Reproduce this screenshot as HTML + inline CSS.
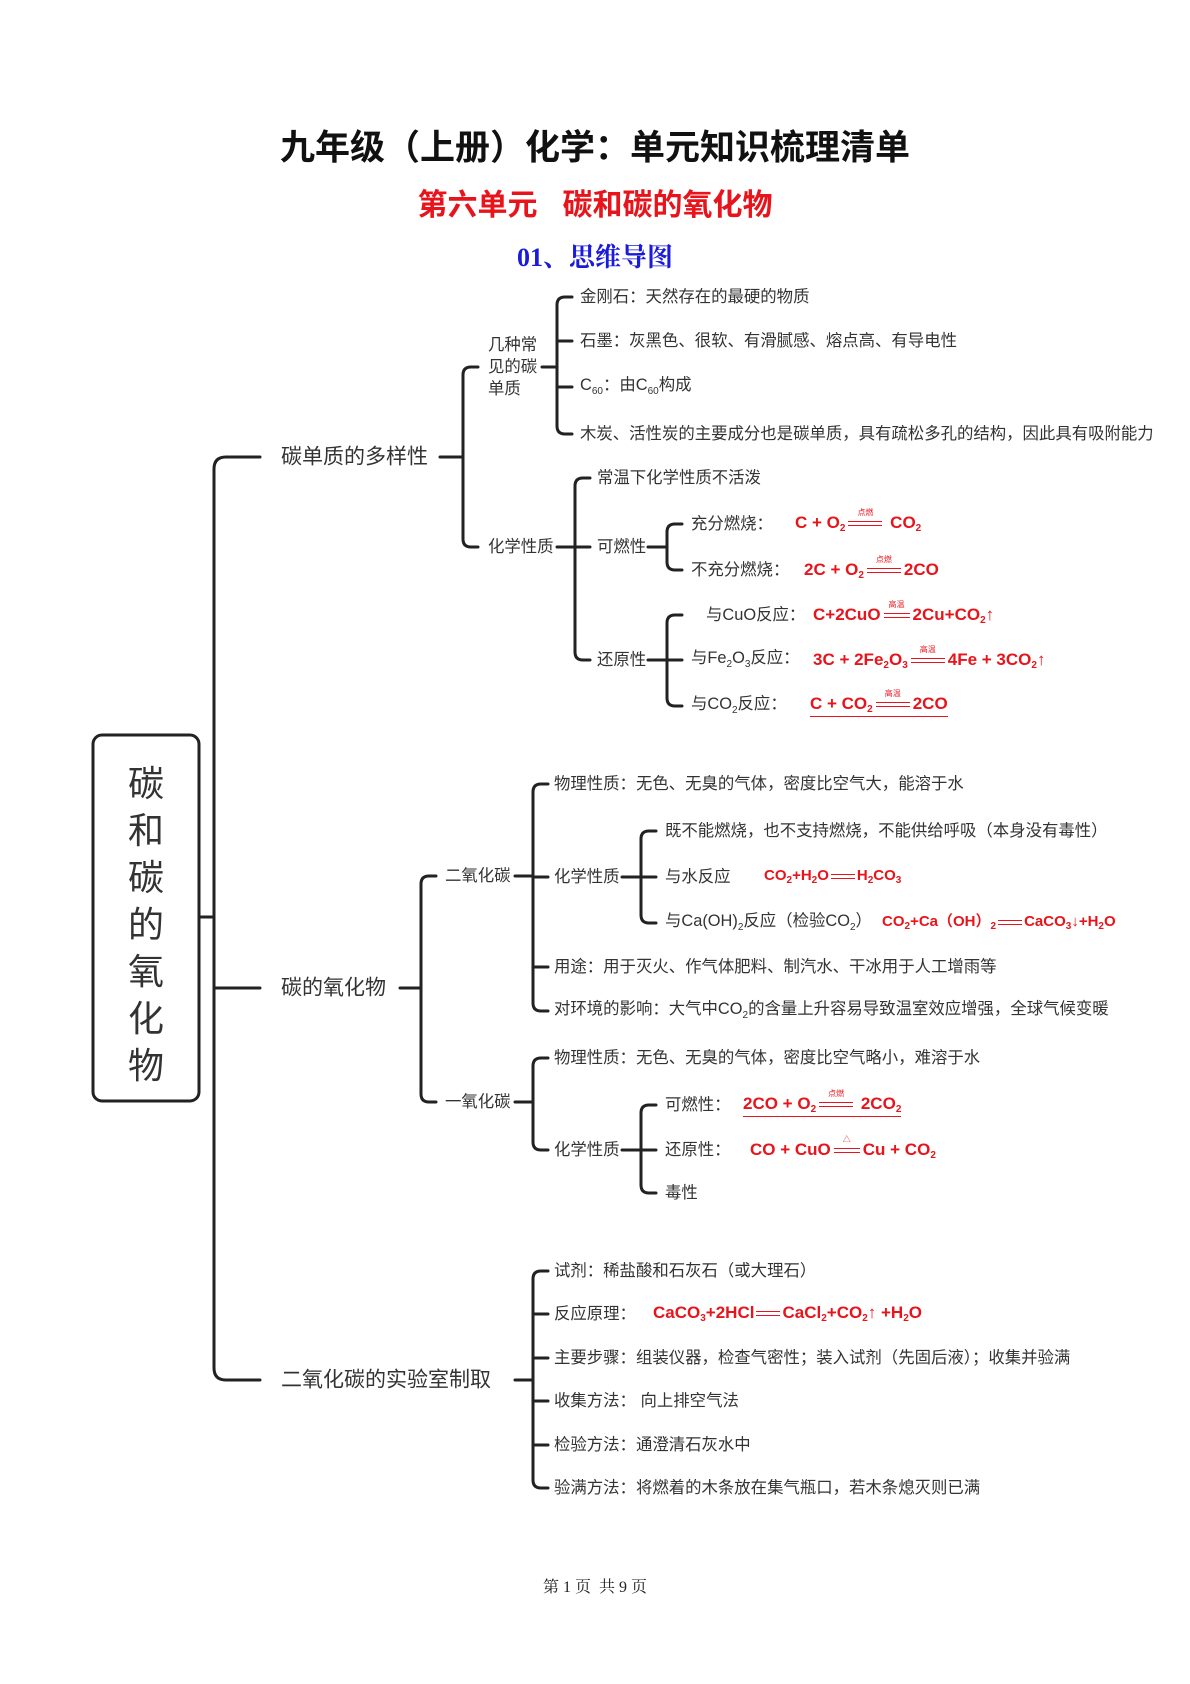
<!DOCTYPE html>
<html><head><meta charset="utf-8">
<style>
body{margin:0;background:#fff;}
#p{position:relative;width:1190px;height:1684px;overflow:hidden;font-family:"Liberation Sans","Noto Sans CJK SC",sans-serif;color:#333;}
.t{position:absolute;white-space:nowrap;line-height:1;transform:translateY(-50%);}
.s{font-size:16.4px;}
.l1{font-size:21px;color:#333;}
.eq{color:#e8141b;font-weight:bold;font-size:17px;}
.eq sub{font-size:10px;vertical-align:-3px;}
.cond{display:inline-block;position:relative;width:34px;margin:0 3px;vertical-align:middle;border-top:1.5px solid #e8141b;border-bottom:1.5px solid #e8141b;height:3px;}
.cond i{position:absolute;font-style:normal;font-size:8px;font-weight:normal;top:-13px;left:0;width:100%;text-align:center;}
.eqs{display:inline-block;width:24px;height:3px;border-top:1.5px solid #e8141b;border-bottom:1.5px solid #e8141b;vertical-align:middle;margin:0 2px;}
sub{font-size:10px;}
</style></head><body><div id="p">
<div class="t" style="left:0;width:1190px;text-align:center;top:148px;font-size:35px;font-weight:bold;color:#111;">九年级（上册）化学：单元知识梳理清单</div>
<div class="t" style="left:0;width:1190px;text-align:center;top:206px;font-size:30px;font-weight:bold;color:#e8141b;">第六单元&nbsp;&nbsp;&nbsp;碳和碳的氧化物</div>
<div class="t" style="left:0;width:1190px;text-align:center;top:258px;font-size:26px;font-weight:bold;color:#1a1adb;font-family:'Liberation Serif','Noto Serif CJK SC',serif;">01、思维导图</div>

<svg width="1190" height="1684" style="position:absolute;left:0;top:0" fill="none" stroke="#222" stroke-width="3" stroke-linecap="round">
<rect x="93" y="735" width="106" height="366" rx="9" stroke-width="3"/>
<path d="M199 917 H214 M260 457 H226 Q214 457 214 469 V1368 Q214 1380 226 1380 H260 M214 988 H260"/>
<path d="M440 457 H463 M478 367 H471 Q463 367 463 375 V539 Q463 547 471 547 H478"/>
<path d="M542 367 H557 M572 297 H565 Q557 297 557 305 V426 Q557 434 565 434 H572 M557 341 H572 M557 387 H572"/>
<path d="M557 547 H575 M590 478 H583 Q575 478 575 486 V652 Q575 660 583 660 H590 M575 547 H590"/>
<path d="M648 547 H667 M682 524 H675 Q667 524 667 532 V562 Q667 570 675 570 H682"/>
<path d="M648 660 H667 M682 615 H675 Q667 615 667 623 V698 Q667 706 675 706 H682 M667 660 H682"/>
<path d="M400 988 H421 M436 876 H429 Q421 876 421 884 V1094 Q421 1102 429 1102 H436"/>
<path d="M515 876 H533 M548 784 H541 Q533 784 533 792 V1003 Q533 1011 541 1011 H548 M533 877 H548 M533 967 H548"/>
<path d="M622 877 H641 M656 831 H649 Q641 831 641 839 V915 Q641 923 649 923 H656 M641 877 H656"/>
<path d="M515 1102 H533 M548 1058 H541 Q533 1058 533 1066 V1142 Q533 1150 541 1150 H548"/>
<path d="M622 1150 H641 M656 1105 H649 Q641 1105 641 1113 V1185 Q641 1193 649 1193 H656 M641 1150 H656"/>
<path d="M515 1380 H533 M548 1271 H541 Q533 1271 533 1279 V1480 Q533 1488 541 1488 H548 M533 1314 H548 M533 1358 H548 M533 1401 H548 M533 1445 H548"/>
</svg>

<div style="position:absolute;left:93px;top:760px;width:106px;text-align:center;font-size:36px;line-height:47px;color:#333;">碳<br>和<br>碳<br>的<br>氧<br>化<br>物</div>

<div class="t l1" style="left:281px;top:457px;">碳单质的多样性</div>
<div class="t l1" style="left:281px;top:988px;">碳的氧化物</div>
<div class="t l1" style="left:281px;top:1380px;">二氧化碳的实验室制取</div>

<div class="t s" style="left:488px;top:367px;line-height:22px;">几种常<br>见的碳<br>单质</div>
<div class="t s" style="left:580px;top:297px;">金刚石：天然存在的最硬的物质</div>
<div class="t s" style="left:580px;top:341px;">石墨：灰黑色、很软、有滑腻感、熔点高、有导电性</div>
<div class="t s" style="left:580px;top:387px;">C<sub>60</sub>：由C<sub>60</sub>构成</div>
<div class="t s" style="left:580px;top:434px;">木炭、活性炭的主要成分也是碳单质，具有疏松多孔的结构，因此具有吸附能力</div>

<div class="t s" style="left:488px;top:547px;">化学性质</div>
<div class="t s" style="left:597px;top:478px;">常温下化学性质不活泼</div>
<div class="t s" style="left:597px;top:547px;">可燃性</div>
<div class="t s" style="left:597px;top:660px;">还原性</div>
<div class="t s" style="left:691px;top:524px;">充分燃烧：</div>
<div class="t eq" style="left:795px;top:524px;">C + O<sub>2</sub><span class="cond"><i>点燃</i></span> CO<sub>2</sub></div>
<div class="t s" style="left:691px;top:570px;">不充分燃烧：</div>
<div class="t eq" style="left:804px;top:571px;">2C + O<sub>2</sub><span class="cond"><i>点燃</i></span>2CO</div>
<div class="t s" style="left:706px;top:615px;">与CuO反应：</div>
<div class="t eq" style="left:813px;top:616px;">C+2CuO<span class="cond" style="width:26px"><i>高温</i></span>2Cu+CO<sub>2</sub>↑</div>
<div class="t s" style="left:691px;top:660px;">与Fe<sub>2</sub>O<sub>3</sub>反应：</div>
<div class="t eq" style="left:813px;top:661px;">3C + 2Fe<sub>2</sub>O<sub>3</sub><span class="cond"><i>高温</i></span>4Fe + 3CO<sub>2</sub>↑</div>
<div class="t s" style="left:691px;top:706px;">与CO<sub>2</sub>反应：</div>
<div class="t eq" style="left:810px;top:706px;border-bottom:1px solid #e8141b;padding-bottom:1px;">C + CO<sub>2</sub><span class="cond"><i>高温</i></span>2CO</div>

<div class="t s" style="left:445px;top:876px;">二氧化碳</div>
<div class="t s" style="left:445px;top:1102px;">一氧化碳</div>
<div class="t s" style="left:554px;top:784px;">物理性质：无色、无臭的气体，密度比空气大，能溶于水</div>
<div class="t s" style="left:554px;top:877px;">化学性质</div>
<div class="t s" style="left:665px;top:831px;">既不能燃烧，也不支持燃烧，不能供给呼吸（本身没有毒性）</div>
<div class="t s" style="left:665px;top:877px;">与水反应</div>
<div class="t eq" style="left:764px;top:877px;font-size:15px;">CO<sub>2</sub>+H<sub>2</sub>O<span class="eqs"></span>H<sub>2</sub>CO<sub>3</sub></div>
<div class="t s" style="left:665px;top:923px;">与Ca(OH)<sub>2</sub>反应（检验CO<sub>2</sub>）</div>
<div class="t eq" style="left:882px;top:923px;font-size:15px;">CO<sub>2</sub>+Ca（OH）<sub>2</sub><span class="eqs"></span>CaCO<sub>3</sub>↓+H<sub>2</sub>O</div>
<div class="t s" style="left:554px;top:967px;">用途：用于灭火、作气体肥料、制汽水、干冰用于人工增雨等</div>
<div class="t s" style="left:554px;top:1011px;">对环境的影响：大气中CO<sub>2</sub>的含量上升容易导致温室效应增强，全球气候变暖</div>

<div class="t s" style="left:554px;top:1058px;">物理性质：无色、无臭的气体，密度比空气略小，难溶于水</div>
<div class="t s" style="left:554px;top:1150px;">化学性质</div>
<div class="t s" style="left:665px;top:1105px;">可燃性：</div>
<div class="t eq" style="left:743px;top:1106px;border-bottom:1px solid #e8141b;padding-bottom:1px;">2CO + O<sub>2</sub><span class="cond"><i>点燃</i></span> 2CO<sub>2</sub></div>
<div class="t s" style="left:665px;top:1150px;">还原性：</div>
<div class="t eq" style="left:750px;top:1151px;">CO + CuO<span class="cond" style="width:26px"><i>△</i></span>Cu + CO<sub>2</sub></div>
<div class="t s" style="left:665px;top:1193px;">毒性</div>

<div class="t s" style="left:554px;top:1271px;">试剂：稀盐酸和石灰石（或大理石）</div>
<div class="t s" style="left:554px;top:1314px;">反应原理：</div>
<div class="t eq" style="left:653px;top:1314px;">CaCO<sub>3</sub>+2HCl<span class="eqs"></span>CaCl<sub>2</sub>+CO<sub>2</sub>↑ +H<sub>2</sub>O</div>
<div class="t s" style="left:554px;top:1358px;">主要步骤：组装仪器，检查气密性；装入试剂（先固后液）；收集并验满</div>
<div class="t s" style="left:554px;top:1401px;">收集方法： 向上排空气法</div>
<div class="t s" style="left:554px;top:1445px;">检验方法：通澄清石灰水中</div>
<div class="t s" style="left:554px;top:1488px;">验满方法：将燃着的木条放在集气瓶口，若木条熄灭则已满</div>

<div class="t" style="left:0;width:1190px;text-align:center;top:1588px;font-size:16px;color:#222;font-family:'Liberation Serif','Noto Serif CJK SC',serif;">第 1 页 &nbsp;共 9 页</div>
</div></body></html>
